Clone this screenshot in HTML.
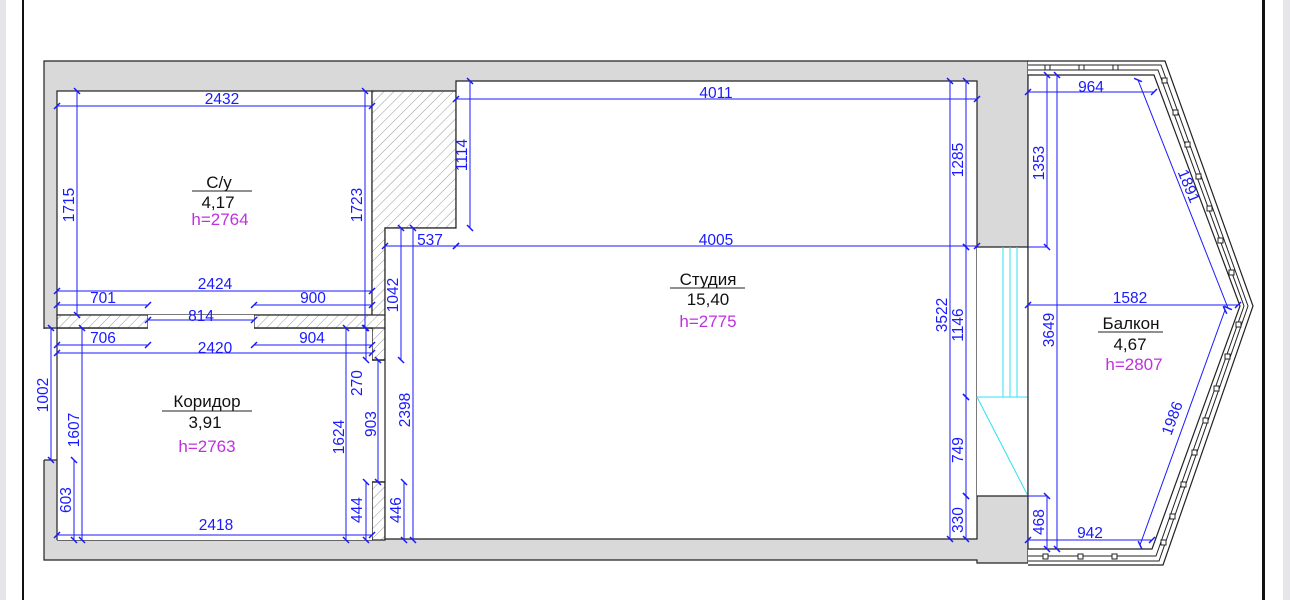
<!DOCTYPE html>
<html><head><meta charset="utf-8"><style>
html,body{margin:0;padding:0;background:#fff;}
svg{display:block;}
text{font-family:"Liberation Sans",sans-serif;}
.d{stroke:#1a1aff;stroke-width:1;fill:none;marker-start:url(#t);marker-end:url(#t);}
.e{stroke:#1a1aff;stroke-width:1;fill:none;}
.dt{fill:#1a1aff;font-size:15.5px;text-anchor:middle;}
.w{stroke:#222;stroke-width:1.2;}
.rl{font-size:17px;text-anchor:middle;fill:#111;}
.rh{font-size:17px;text-anchor:middle;fill:#c030e0;}
.c{stroke:#30e0f0;stroke-width:1;}
</style></head><body>
<svg width="1290" height="600" viewBox="0 0 1290 600" xmlns="http://www.w3.org/2000/svg">
<defs>
<marker id="t" markerWidth="8" markerHeight="8" refX="4" refY="4" orient="auto" markerUnits="userSpaceOnUse">
<path d="M1,7 L7,1" stroke="#1a1aff" stroke-width="1.5"/>
</marker>
<pattern id="h" width="7" height="7" patternUnits="userSpaceOnUse" patternTransform="rotate(45)">
<rect width="7" height="7" fill="#fff"/><line x1="0" y1="0" x2="0" y2="7" stroke="#999" stroke-width="1"/>
</pattern>
</defs>
<rect x="0" y="0" width="6" height="600" fill="#e6e6ea"/>
<rect x="22" y="0" width="2" height="600" fill="#111"/>
<rect x="1262" y="0" width="3" height="600" fill="#111"/>
<rect x="1283" y="0" width="7" height="600" fill="#e6e6ea"/>

<path d="M44,61 H1028 V563 H977 V560 H44 Z" fill="#d9d9d9" stroke="#222" stroke-width="1.2"/>
<rect x="38" y="329" width="19" height="131" fill="#fff"/>
<line x1="44" y1="328" x2="57" y2="328" class="w"/>
<line x1="44" y1="460" x2="57" y2="460" class="w"/>
<rect x="57" y="91" width="315" height="224" fill="#fff" class="w"/>
<path d="M372,91 H456 V228 H385 V360 H372 Z" fill="url(#h)" class="w"/>
<rect x="57" y="315" width="91" height="13" fill="url(#h)" class="w"/>
<rect x="254" y="315" width="131" height="13" fill="url(#h)" class="w"/>
<rect x="372" y="482" width="13" height="58" fill="url(#h)" class="w"/>
<path d="M57,328 H148 M254,328 H372 V360 M372,482 V540 H57" fill="none" class="w"/>
<rect x="57" y="329" width="315" height="211" fill="#fff"/>
<rect x="148" y="315" width="106" height="14" fill="#fff"/>
<rect x="371" y="361" width="15" height="120" fill="#fff"/>
<path d="M456,81 H977 V539 H385 V228 H456 Z" fill="#fff" class="w"/>
<path d="M57,328 V540 M385,360 H372 M385,482 H372" class="w" fill="none"/>
<rect x="977" y="247" width="51" height="249" fill="#fff"/>
<path d="M977,247 H1028 M977,496 H1028" class="w"/>
<line x1="1028" y1="247" x2="1028" y2="496" class="w"/>
<line x1="1003" y1="247" x2="1003" y2="397" class="c"/>
<line x1="1010" y1="247" x2="1010" y2="397" class="c"/>
<line x1="1017" y1="247" x2="1017" y2="397" class="c"/>
<line x1="977" y1="397" x2="1028" y2="397" class="c"/>
<line x1="977" y1="397" x2="1028" y2="496" class="c"/>

<path d="M1028,61 H1165 L1253,306 L1163,565 H1028" fill="#fff" stroke="#222" stroke-width="1.2"/>
<path d="M1028,65 H1161 L1248,306 L1159,561 H1028" fill="none" stroke="#222" stroke-width="1"/>
<path d="M1028,70 H1158 L1244,306 L1156,556 H1028" fill="none" stroke="#222" stroke-width="1"/>
<path d="M1028,75 H1154 L1240,306 L1152,549 H1028 Z" fill="#fff" stroke="#222" stroke-width="1.2"/>
<g fill="#fff" stroke="#222" stroke-width="1">
<rect x="1045" y="65" width="5" height="5"/><rect x="1079" y="65" width="5" height="5"/><rect x="1113" y="65" width="5" height="5"/>
<rect x="1043" y="554" width="5" height="5"/><rect x="1078" y="554" width="5" height="5"/><rect x="1112" y="554" width="5" height="5"/>
<rect x="1162" y="78" width="5" height="5"/><rect x="1173" y="110" width="5" height="5"/><rect x="1185" y="142" width="5" height="5"/>
<rect x="1196" y="174" width="5" height="5"/><rect x="1207" y="206" width="5" height="5"/><rect x="1218" y="238" width="5" height="5"/>
<rect x="1229" y="270" width="5" height="5"/>
<rect x="1236" y="322" width="5" height="5"/><rect x="1225" y="354" width="5" height="5"/><rect x="1214" y="386" width="5" height="5"/>
<rect x="1203" y="418" width="5" height="5"/><rect x="1192" y="450" width="5" height="5"/><rect x="1181" y="482" width="5" height="5"/>
<rect x="1170" y="514" width="5" height="5"/><rect x="1161" y="540" width="5" height="5"/>
</g>

<g>
<line class="d" x1="57" y1="106" x2="372" y2="106"/><text class="dt" x="222" y="104">2432</text>
<line class="d" x1="77" y1="91" x2="77" y2="315"/><text class="dt" transform="translate(74,205) rotate(-90)">1715</text>
<line class="d" x1="365" y1="91" x2="365" y2="328"/><text class="dt" transform="translate(362,205) rotate(-90)">1723</text>
<line class="d" x1="57" y1="291" x2="372" y2="291"/><text class="dt" x="215" y="289">2424</text>
<line class="d" x1="57" y1="305" x2="148" y2="305"/><text class="dt" x="103" y="303">701</text>
<line class="d" x1="254" y1="305" x2="372" y2="305"/><text class="dt" x="313" y="303">900</text>
<line class="d" x1="148" y1="320" x2="254" y2="320"/><text class="dt" x="201" y="321">814</text>
<line class="d" x1="57" y1="345" x2="148" y2="345"/><text class="dt" x="103" y="343">706</text>
<line class="d" x1="254" y1="345" x2="372" y2="345"/><text class="dt" x="312" y="343">904</text>
<line class="d" x1="57" y1="353" x2="372" y2="353"/><text class="dt" x="215" y="353">2420</text>
<line class="d" x1="51" y1="328" x2="51" y2="460"/><text class="dt" transform="translate(48,395) rotate(-90)">1002</text>
<line class="d" x1="82" y1="328" x2="82" y2="540"/><text class="dt" transform="translate(79,430) rotate(-90)">1607</text>
<line class="d" x1="74" y1="460" x2="74" y2="540"/><text class="dt" transform="translate(71,500) rotate(-90)">603</text>
<line class="d" x1="57" y1="535" x2="372" y2="535"/><text class="dt" x="216" y="530">2418</text>
<line class="d" x1="346" y1="328" x2="346" y2="540"/><text class="dt" transform="translate(344,437) rotate(-90)">1624</text>
<line class="d" x1="366" y1="328" x2="366" y2="360"/><text class="dt" transform="translate(362,383) rotate(-90)">270</text>
<line class="d" x1="378" y1="360" x2="378" y2="482"/><text class="dt" transform="translate(376,424) rotate(-90)">903</text>
<line class="d" x1="366" y1="482" x2="366" y2="540"/><text class="dt" transform="translate(362,510) rotate(-90)">444</text>
<line class="d" x1="404" y1="482" x2="404" y2="540"/><text class="dt" transform="translate(401,510) rotate(-90)">446</text>
<line class="d" x1="401" y1="228" x2="401" y2="360"/><text class="dt" transform="translate(398,295) rotate(-90)">1042</text>
<line class="d" x1="413" y1="228" x2="413" y2="540"/><text class="dt" transform="translate(410,410) rotate(-90)">2398</text>
<line class="d" x1="385" y1="246" x2="456" y2="246"/><text class="dt" x="430" y="245">537</text>
<line class="d" x1="470" y1="81" x2="470" y2="228"/><text class="dt" transform="translate(467,155) rotate(-90)">1114</text>
<line class="d" x1="456" y1="99" x2="977" y2="99"/><text class="dt" x="716" y="98">4011</text>
<line class="d" x1="456" y1="246" x2="977" y2="246"/><text class="dt" x="716" y="245">4005</text>
<line class="d" x1="950" y1="81" x2="950" y2="539"/><text class="dt" transform="translate(947,315) rotate(-90)">3522</text>
<line class="d" x1="966" y1="81" x2="966" y2="247"/><text class="dt" transform="translate(963,160) rotate(-90)">1285</text>
<line class="d" x1="966" y1="247" x2="966" y2="397"/><text class="dt" transform="translate(963,325) rotate(-90)">1146</text>
<line class="d" x1="966" y1="397" x2="966" y2="496"/><text class="dt" transform="translate(963,450) rotate(-90)">749</text>
<line class="d" x1="966" y1="496" x2="966" y2="539"/><text class="dt" transform="translate(963,520) rotate(-90)">330</text>
<line class="d" x1="1047" y1="75" x2="1047" y2="247"/><text class="dt" transform="translate(1044,163) rotate(-90)">1353</text>
<line class="e" x1="1028" y1="247" x2="1047" y2="247"/>
<line class="d" x1="1057" y1="75" x2="1057" y2="549"/><text class="dt" transform="translate(1054,330) rotate(-90)">3649</text>
<line class="d" x1="1047" y1="496" x2="1047" y2="549"/><text class="dt" transform="translate(1044,522) rotate(-90)">468</text>
<line class="e" x1="1028" y1="496" x2="1047" y2="496"/>
<line class="d" x1="1028" y1="92" x2="1154" y2="92"/><text class="dt" x="1091" y="92">964</text>
<line class="d" x1="1028" y1="540" x2="1152" y2="540"/><text class="dt" x="1090" y="538">942</text>
<line class="d" x1="1028" y1="305" x2="1238" y2="305"/><text class="dt" x="1130" y="303">1582</text>
<line class="d" x1="1138" y1="80" x2="1228" y2="308"/><text class="dt" transform="translate(1184,188) rotate(68)">1891</text>
<line class="d" x1="1140" y1="545" x2="1225" y2="310"/><text class="dt" transform="translate(1177,420) rotate(-70)">1986</text>
</g>

<text class="rl" x="219" y="188">С/у</text><line x1="192" y1="191" x2="252" y2="191" stroke="#222"/>
<text class="rl" x="218" y="208">4,17</text><text class="rh" x="220" y="225">h=2764</text>
<text class="rl" x="708" y="285">Студия</text><line x1="670" y1="288" x2="745" y2="288" stroke="#222"/>
<text class="rl" x="708" y="305">15,40</text><text class="rh" x="708" y="327">h=2775</text>
<text class="rl" x="207" y="407">Коридор</text><line x1="162" y1="411" x2="252" y2="411" stroke="#222"/>
<text class="rl" x="205" y="428">3,91</text><text class="rh" x="207" y="452">h=2763</text>
<text class="rl" x="1131" y="329">Балкон</text><line x1="1098" y1="332" x2="1163" y2="332" stroke="#222"/>
<text class="rl" x="1130" y="350">4,67</text><text class="rh" x="1134" y="370">h=2807</text>
</svg>
</body></html>
